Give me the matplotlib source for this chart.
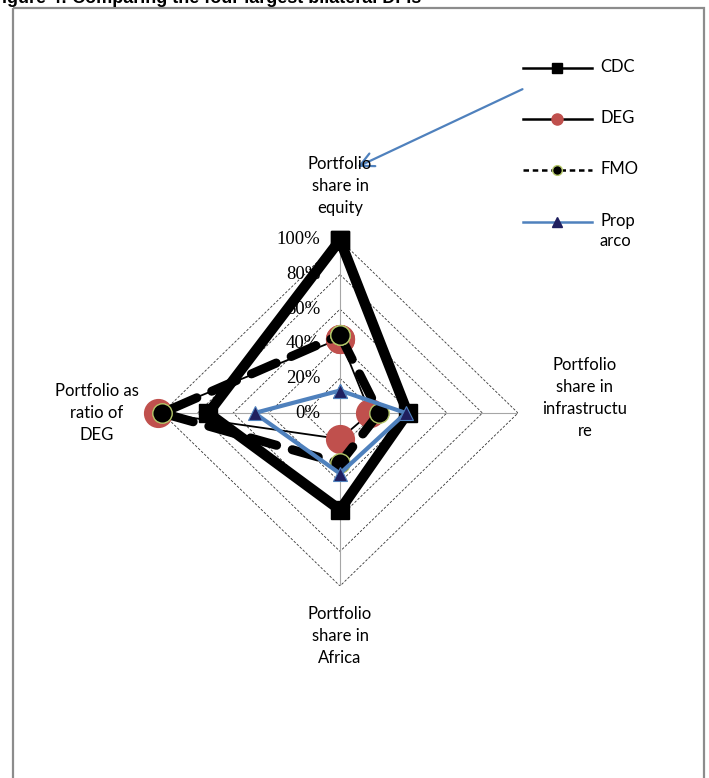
import numpy as np
import matplotlib
matplotlib.use('Agg')
import matplotlib.pyplot as plt
from matplotlib.patches import Rectangle, FancyArrowPatch

# axes of the radar, clockwise from the top
axis_labels = ['Portfolio\nshare in\nequity',
               'Portfolio\nshare in\ninfrastructu\nre',
               'Portfolio\nshare in\nAfrica',
               'Portfolio as\nratio of\nDEG']
ticks = [0.0, 0.2, 0.4, 0.6, 0.8, 1.0]
tick_labels = ['0%', '20%', '40%', '60%', '80%', '100%']

series = ['CDC', 'DEG', 'FMO', 'Prop\narco']
cdc = [1.00, 0.38, 0.56, 0.74]
deg = [0.43, 0.17, 0.15, 1.02]
fmo = [0.45, 0.22, 0.29, 1.00]
proparco = [0.13, 0.37, 0.35, 0.48]

W, H = 709, 778
fig = plt.figure(figsize=(W / 100, H / 100), dpi=100)

# overlay in pixel units for frame, legend and arrow
over = fig.add_axes([0, 0, 1, 1])
over.set_xlim(0, W)
over.set_ylim(H, 0)
over.axis('off')
over.add_patch(Rectangle((13, 8), 691, 790, fill=False, ec='#8c8c8c', lw=1.6))

# caption, cut off at the top as in the scanned page
fig.text(-0.012, 1 - 3 / H, 'Figure 4: Comparing the four largest bilateral DFIs',
         fontsize=13, fontweight='bold', family='Liberation Sans', va='baseline')

# radar axes, centre at (340, 413), radius ~178 x 173 px
cx, cy, rx, ry = 340, 413, 178, 173
ax = fig.add_axes([(cx - rx) / W, (H - cy - ry) / H, 2 * rx / W, 2 * ry / H])
ax.set_xlim(-1, 1)
ax.set_ylim(-1, 1)
ax.axis('off')

theta = np.arange(len(axis_labels)) * np.pi / 2
sx, sy = np.sin(theta), np.cos(theta)


def xy(vals):
    v = np.array(vals + vals[:1])
    s = np.append(sx, sx[0])
    c = np.append(sy, sy[0])
    return v * s, v * c


# grid
for t in ticks[1:]:
    gx, gy = xy([t] * 4)
    ax.plot(gx, gy, color='#333333', lw=0.6, ls=(0, (3, 2)), zorder=1)
for a, b in zip(sx, sy):
    ax.plot([0, a], [0, b], color='#a6a6a6', lw=0.8, zorder=1)

for t, lab in zip(ticks, tick_labels):
    ax.text(-0.11, t, lab, ha='right', va='center', fontsize=13.5,
            family='Liberation Serif', zorder=2)

# series
x, y = xy(cdc)
ax.plot(x, y, color='black', lw=7.5, marker='s', ms=13, solid_joinstyle='miter',
        clip_on=False, zorder=3)
x, y = xy(deg)
ax.plot(x, y, color='black', lw=1.3, marker='o', ms=20, mfc='#c0504d', mec='#c0504d',
        clip_on=False, zorder=4)
x, y = xy(fmo)
ax.plot(x, y, color='black', lw=6.5, ls=(0, (3, 1.8)), dash_capstyle='round',
        marker='o', ms=14, mfc='black', mec='#b5c86a', mew=1.0, clip_on=False, zorder=5)
x, y = xy(proparco)
ax.plot(x, y, color='#4f81bd', lw=3, marker='^', ms=10, mfc='#1f1f5f', mec='#4f81bd',
        mew=0.8, clip_on=False, zorder=6)

# axis labels
label_pos = [(340, 186), (585, 398), (340, 636), (97, 413)]
for (px, py), lab in zip(label_pos, axis_labels):
    over.text(px, py, lab, ha='center', va='center', fontsize=12, family='Lato',
              linespacing=1.45)

# legend
leg_y = [68, 119, 170, 222]
line_st = [dict(color='black', lw=1.8),
           dict(color='black', lw=1.8),
           dict(color='black', lw=1.8, ls=(0, (2.2, 1.5))),
           dict(color='#4f81bd', lw=1.8)]
mark_st = [dict(marker='s', ms=7, mfc='black', mec='black'),
           dict(marker='o', ms=8, mfc='#c0504d', mec='#c0504d'),
           dict(marker='o', ms=7, mfc='black', mec='#b5c86a'),
           dict(marker='^', ms=7, mfc='#1f1f5f', mec='#1f1f5f')]
for ly, ls_, ms_, name in zip(leg_y, line_st, mark_st, series):
    over.plot([523, 592], [ly, ly], **ls_)
    over.plot([557], [ly], ls='none', **ms_)
    over.text(600, ly - 9, name, ha='left', va='top', fontsize=12, family='Lato',
              linespacing=1.3)

# arrow pointing at the equity axis
over.add_patch(FancyArrowPatch((525, 88), (355, 168), arrowstyle='->,head_length=10,head_width=5',
                               color='#4f81bd', lw=1.6, mutation_scale=1))

fig.savefig('out.png', dpi=100)
